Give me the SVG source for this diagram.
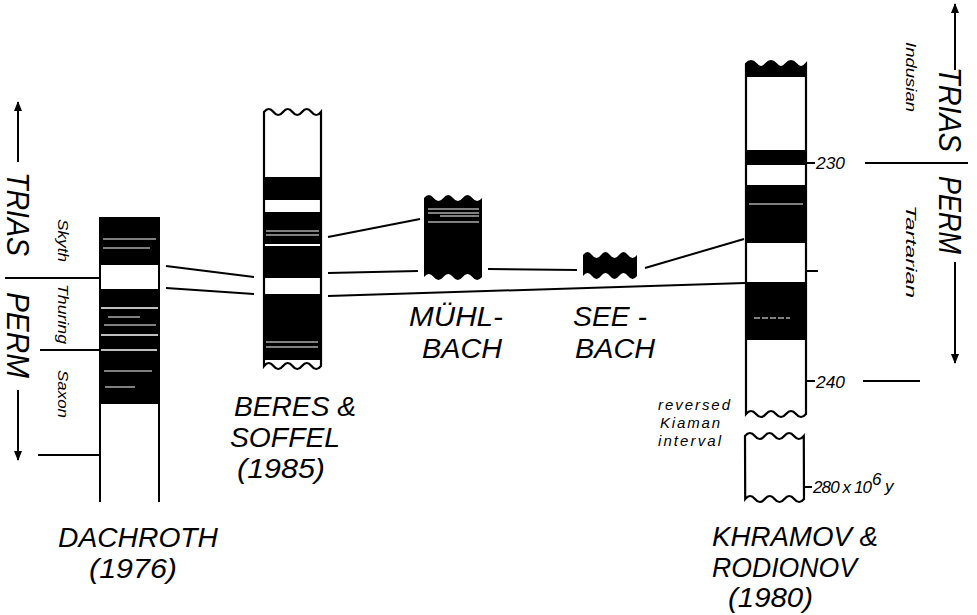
<svg xmlns="http://www.w3.org/2000/svg" width="977" height="615" viewBox="0 0 977 615">
<defs>
<style>
text{font-family:"Liberation Sans","DejaVu Sans",sans-serif;font-style:italic;fill:#000}
.big{font-size:27px}
.axis{font-size:31px}
.sm{font-size:15px}
.lab{font-size:15px}
.num{font-size:17px}
.ln{stroke:#000;stroke-width:2;fill:none}
.col{fill:#fff;stroke:#000;stroke-width:2.2}
.blk{fill:#000}
.wl{stroke:#fff;stroke-width:1}
</style>
<marker id="ah" viewBox="0 0 10 20" refX="9" refY="10" markerWidth="10" markerHeight="20" markerUnits="userSpaceOnUse" orient="auto">
<path d="M0 6 L10 10 L0 14 Z" fill="#000"/>
</marker>
</defs>
<rect width="977" height="615" fill="#fff"/>

<g id="left-scale">
<line class="ln" x1="18" y1="162" x2="18" y2="102" marker-end="url(#ah)"/>
<text class="axis" transform="translate(7,172) rotate(90)" textLength="84" lengthAdjust="spacingAndGlyphs">TRIAS</text>
<line class="ln" x1="5" y1="278" x2="100" y2="278"/>
<text class="axis" transform="translate(7,292) rotate(90)" textLength="86" lengthAdjust="spacingAndGlyphs">PERM</text>
<line class="ln" x1="18" y1="390" x2="18" y2="460" marker-end="url(#ah)"/>
<text class="sm" transform="translate(58,219) rotate(90)" textLength="43" lengthAdjust="spacingAndGlyphs">Skyth</text>
<text class="sm" transform="translate(58,284) rotate(90)" textLength="60" lengthAdjust="spacingAndGlyphs">Thuring</text>
<line class="ln" x1="40" y1="350" x2="100" y2="350"/>
<text class="sm" transform="translate(58,370) rotate(90)" textLength="48" lengthAdjust="spacingAndGlyphs">Saxon</text>
<line class="ln" x1="38" y1="455" x2="100" y2="455"/>
</g>

<g id="dachroth">
<rect class="blk" x="100" y="217" width="59" height="48"/>
<rect class="blk" x="100" y="289" width="59" height="115"/>
<line class="ln" x1="100" y1="217" x2="100" y2="502" stroke-width="2.5"/>
<line class="ln" x1="159" y1="217" x2="159" y2="502" stroke-width="2.5"/>
<g class="wl">
<line x1="103" y1="239" x2="156" y2="239"/>
<line x1="103" y1="248" x2="150" y2="248"/>
<line x1="101" y1="308" x2="158" y2="308" stroke-width="1.5"/>
<line x1="108" y1="317" x2="140" y2="317"/>
<line x1="104" y1="325" x2="156" y2="325"/>
<line x1="101" y1="335" x2="158" y2="335" stroke-width="1.5"/>
<line x1="101" y1="350" x2="157" y2="350" stroke-width="1.5"/>
<line x1="104" y1="371" x2="152" y2="371"/>
<line x1="105" y1="387" x2="135" y2="387"/>
</g>
<text class="big" x="58" y="547" textLength="160" lengthAdjust="spacingAndGlyphs">DACHROTH</text>
<text class="big" x="89" y="578" textLength="88" lengthAdjust="spacingAndGlyphs">(1976)</text>
</g>

<g id="beres-soffel">
<path class="col" d="M264 112 q4.75 -6 9.5 0 t9.5 0 t9.5 0 t9.5 0 t9.5 0 t9.5 0 L321 366 q-4.75 6 -9.5 0 t-9.5 0 t-9.5 0 t-9.5 0 t-9.5 0 t-9.5 0 Z"/>
<rect class="blk" x="264" y="177" width="57" height="23"/>
<rect class="blk" x="264" y="212" width="57" height="66"/>
<rect class="blk" x="264" y="294" width="57" height="66"/>
<g class="wl">
<line x1="266" y1="231" x2="319" y2="231"/>
<line x1="266" y1="235" x2="319" y2="235"/>
<line x1="265" y1="245" x2="320" y2="245" stroke-width="2"/>
<line x1="266" y1="342" x2="318" y2="342"/>
<line x1="266" y1="347" x2="318" y2="347"/>
</g>
<text class="big" x="234" y="416" textLength="122" lengthAdjust="spacingAndGlyphs">BERES &amp;</text>
<text class="big" x="230" y="447" textLength="110" lengthAdjust="spacingAndGlyphs">SOFFEL</text>
<text class="big" x="237" y="478" textLength="88" lengthAdjust="spacingAndGlyphs">(1985)</text>
</g>

<g id="muehlbach">
<path class="blk" d="M424 198 q4.833 -6 9.667 0 t9.667 0 t9.667 0 t9.667 0 t9.667 0 t9.667 0 L482 277 q-4.833 6 -9.667 0 t-9.667 0 t-9.667 0 t-9.667 0 t-9.667 0 t-9.667 0 Z"/>
<g class="wl">
<line x1="428" y1="209" x2="479" y2="209"/>
<line x1="428" y1="213" x2="479" y2="213"/>
<line x1="440" y1="216" x2="479" y2="216"/>
<line x1="428" y1="222" x2="479" y2="222"/>
</g>
<text class="big" x="409" y="326" textLength="94" lengthAdjust="spacingAndGlyphs">MÜHL-</text>
<text class="big" x="422" y="358" textLength="80" lengthAdjust="spacingAndGlyphs">BACH</text>
</g>

<g id="seebach">
<path class="blk" d="M583 255 q4.5 -6 9 0 t9 0 t9 0 t9 0 t9 0 t9 0 L637 276 q-4.5 6 -9 0 t-9 0 t-9 0 t-9 0 t-9 0 t-9 0 Z"/>
<text class="big" x="573" y="326" textLength="74" lengthAdjust="spacingAndGlyphs">SEE -</text>
<text class="big" x="575" y="358" textLength="80" lengthAdjust="spacingAndGlyphs">BACH</text>
</g>

<g id="khramov-rodionov">
<path class="col" d="M746 64 q5 -6 10 0 t10 0 t10 0 t10 0 t10 0 t10 0 L806 414 q-5 6 -10 0 t-10 0 t-10 0 t-10 0 t-10 0 t-10 0 Z"/>
<path class="blk" d="M746 64 q5 -6 10 0 t10 0 t10 0 t10 0 t10 0 t10 0 L806 77 L746 77 Z"/>
<rect class="blk" x="746" y="150" width="60" height="15"/>
<rect class="blk" x="746" y="185" width="60" height="58"/>
<rect class="blk" x="746" y="282" width="60" height="58"/>
<line class="wl" x1="749" y1="204" x2="803" y2="204"/>
<line class="wl" x1="754" y1="318" x2="790" y2="318" stroke-dasharray="6 2"/>
<path class="col" d="M745 436 q4.9 -6 9.8 0 t9.8 0 t9.8 0 t9.8 0 t9.8 0 t9.8 0 L804 499 q-4.9 6 -9.8 0 t-9.8 0 t-9.8 0 t-9.8 0 t-9.8 0 t-9.8 0 Z"/>
<text class="lab" x="658" y="410" textLength="72" lengthAdjust="spacing">reversed</text>
<text class="lab" x="660" y="428" textLength="60" lengthAdjust="spacing">Kiaman</text>
<text class="lab" x="658" y="446" textLength="63" lengthAdjust="spacing">interval</text>
<text class="big" x="712" y="546" textLength="166" lengthAdjust="spacingAndGlyphs">KHRAMOV &amp;</text>
<text class="big" x="712" y="577" textLength="145" lengthAdjust="spacingAndGlyphs">RODIONOV</text>
<text class="big" x="728" y="607" textLength="85" lengthAdjust="spacingAndGlyphs">(1980)</text>
</g>

<g id="age-scale">
<line class="ln" x1="806" y1="163" x2="815" y2="163"/>
<text class="num" x="816" y="169" textLength="29" lengthAdjust="spacingAndGlyphs">230</text>
<line class="ln" x1="806" y1="271" x2="818" y2="271"/>
<line class="ln" x1="806" y1="381" x2="815" y2="381"/>
<text class="num" x="816" y="388" textLength="29" lengthAdjust="spacingAndGlyphs">240</text>
<line class="ln" x1="804" y1="487" x2="812" y2="487"/>
<text class="num" x="813" y="493" textLength="59" lengthAdjust="spacing">280 x 10</text>
<text class="num" x="872" y="485" font-size="15">6</text>
<text class="num" x="885" y="492">y</text>
</g>

<g id="right-scale">
<line class="ln" x1="955" y1="70" x2="955" y2="4" marker-end="url(#ah)"/>
<text class="axis" transform="translate(939,67) rotate(90)" textLength="85" lengthAdjust="spacingAndGlyphs">TRIAS</text>
<line class="ln" x1="865" y1="163" x2="968" y2="163" stroke-width="3"/>
<text class="axis" transform="translate(939,176) rotate(90)" textLength="78" lengthAdjust="spacingAndGlyphs">PERM</text>
<line class="ln" x1="955" y1="262" x2="955" y2="363" marker-end="url(#ah)"/>
<text class="sm" transform="translate(906,42) rotate(90)" textLength="70" lengthAdjust="spacingAndGlyphs">Indusian</text>
<text class="sm" transform="translate(906,205) rotate(90)" textLength="93" lengthAdjust="spacingAndGlyphs">Tartarian</text>
<line class="ln" x1="863" y1="381" x2="920" y2="381"/>
</g>

<g id="connectors" class="ln">
<line x1="166" y1="266" x2="254" y2="277"/>
<line x1="166" y1="288" x2="254" y2="294"/>
<line x1="328" y1="237" x2="420" y2="219"/>
<line x1="328" y1="273" x2="418" y2="271"/>
<line x1="328" y1="296" x2="745" y2="283"/>
<line x1="488" y1="269" x2="577" y2="270"/>
<line x1="645" y1="268" x2="744" y2="239"/>
</g>
</svg>
